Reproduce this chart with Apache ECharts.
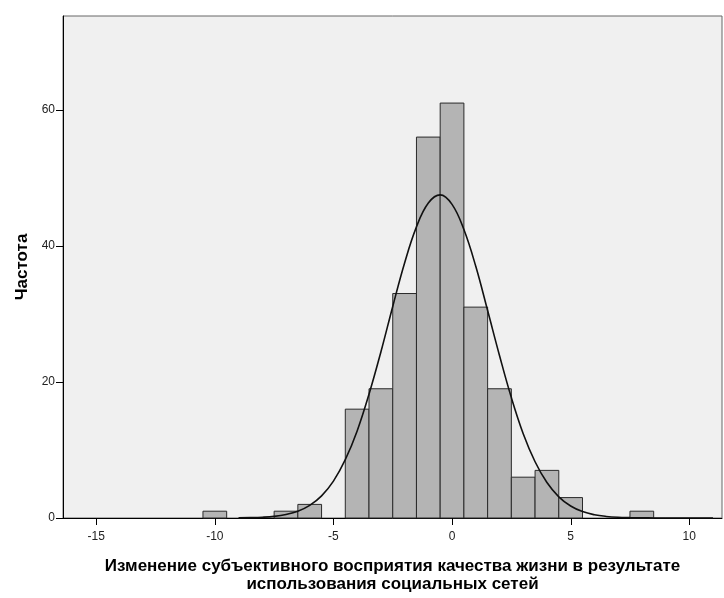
<!DOCTYPE html>
<html>
<head>
<meta charset="utf-8">
<script src="https://cdn.jsdelivr.net/npm/echarts@6/dist/echarts.min.js"></script>
<style>html,body{margin:0;padding:0;background:#fff}#c{width:724px;height:598px}</style>
</head>
<body>
<div id="c"></div>
<script>
// Histogram bins (bin centre, frequency), bin width 1
const binCenters = [-10, -7, -6, -4, -3, -2, -1, 0, 1, 2, 3, 4, 5, 8];
const binCounts  = [1, 1, 2, 16, 19, 33, 56, 61, 31, 19, 6, 7, 3, 1];
// Normal curve
const curveX = [-9, -8.5, -8, -7.5, -7, -6.5, -6, -5.5, -5, -4.5, -4, -3.5, -3, -2.5, -2, -1.5, -1, -0.5, 0, 0.5, 1, 1.5, 2, 2.5, 3, 3.5, 4, 4.5, 5, 5.5, 6, 6.5, 7, 7.5, 8, 8.5, 9, 10, 11];
const curveY = [0.02, 0.05, 0.11, 0.24, 0.51, 0.99, 1.85, 3.25, 5.42, 8.57, 12.8, 18.2, 24.4, 31.1, 37.5, 42.8, 46.3, 47.5, 46.1, 42.4, 37.0, 30.5, 23.9, 17.7, 12.4, 8.27, 5.21, 3.11, 1.76, 0.94, 0.48, 0.23, 0.10, 0.05, 0.02, 0.01, 0, 0, 0];
const xTicks = [-15, -10, -5, 0, 5, 10];
const yTicks = [0, 20, 40, 60];
const xTitle = 'Изменение субъективного восприятия качества жизни в результате\nиспользования социальных сетей';
const yTitle = 'Частота';

const X_MIN = -16.4, X_MAX = 11.38, Y_MIN = 0, Y_MAX = 73.8;
const chart = echarts.init(document.getElementById('c'), null, {renderer: 'canvas'});
const font = 'Liberation Sans, Arial, sans-serif';
chart.setOption({
  animation: false,
  backgroundColor: '#ffffff',
  grid: {left: 63, right: 2, top: 16, bottom: 79, show: true, backgroundColor: '#f0f0f0', borderColor: '#666', borderWidth: 1},
  xAxis: {
    type: 'value', min: X_MIN, max: X_MAX,
    name: xTitle, nameLocation: 'middle', nameGap: 39,
    nameTextStyle: {fontFamily: font, fontWeight: 'bold', fontSize: 17, color: '#000', lineHeight: 18},
    axisLine: {show: true, onZero: false, lineStyle: {color: '#000', width: 1}},
    axisTick: {show: false},
    axisLabel: {fontFamily: font, fontSize: 12, color: '#222', margin: 13, customValues: xTicks},
    splitLine: {show: false}
  },
  yAxis: {
    type: 'value', min: Y_MIN, max: Y_MAX,
    name: yTitle, nameLocation: 'middle', nameGap: 32, nameRotate: 90,
    nameTextStyle: {fontFamily: font, fontWeight: 'bold', fontSize: 17, color: '#000'},
    axisLine: {show: true, onZero: false, lineStyle: {color: '#000', width: 1}},
    axisTick: {show: false},
    axisLabel: {fontFamily: font, fontSize: 12, color: '#222', margin: 8, customValues: yTicks},
    splitLine: {show: false}
  },
  series: [
    {
      type: 'custom',
      data: binCenters.map((c, i) => [c, binCounts[i]]),
      renderItem: function (params, api) {
        const c = api.value(0), v = api.value(1);
        const p1 = api.coord([c - 0.5, v]);
        const p2 = api.coord([c + 0.5, 0]);
        return {
          type: 'rect',
          shape: {x: p1[0], y: p1[1], width: p2[0] - p1[0], height: p2[1] - p1[1]},
          style: {fill: '#b4b4b4', stroke: '#2a2a2a', lineWidth: 1}
        };
      },
      z: 2
    },
    {
      type: 'line',
      data: curveX.map((x, i) => [x, curveY[i]]),
      smooth: 0.4,
      showSymbol: false,
      lineStyle: {color: '#111', width: 1.6},
      z: 3
    },
    {
      // tick marks on both axes, at tick values (third value: 0 = x-axis, 1 = y-axis)
      type: 'custom', clip: false, silent: true,
      data: xTicks.map(v => [v, 1, 0]).concat(yTicks.map(v => [X_MIN, v, 1])),
      encode: {x: 0, y: 1},
      renderItem: function (params, api) {
        const kind = api.value(2);
        if (kind === 0) {
          const p = api.coord([api.value(0), Y_MIN]);
          const x = Math.round(p[0]) + 0.5;
          return {type: 'line', shape: {x1: x, y1: p[1], x2: x, y2: p[1] + 7}, style: {stroke: '#000', lineWidth: 1}};
        }
        const p = api.coord([X_MIN, api.value(1)]);
        const y = Math.round(p[1]) + 0.5;
        return {type: 'line', shape: {x1: p[0] - 7, y1: y, x2: p[0], y2: y}, style: {stroke: '#000', lineWidth: 1}};
      },
      z: 5
    }
  ]
});
</script>
</body>
</html>
